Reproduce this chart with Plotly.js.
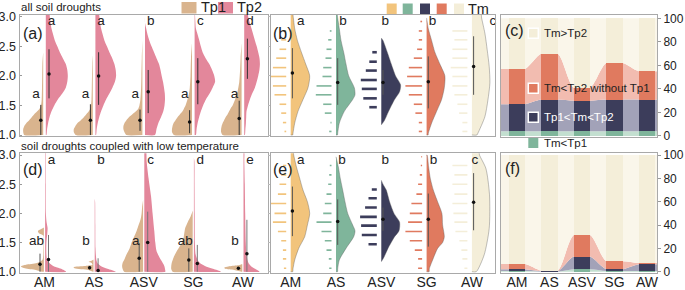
<!DOCTYPE html>
<html><head><meta charset="utf-8">
<script src="https://cdn.plot.ly/plotly-3.0.1.min.js"></script>
<style>html,body{margin:0;padding:0;background:#fff}</style>
</head><body><div id="chart" style="width:685px;height:290px"></div>
<script>
// ---------------- DATA ----------------
const categories = ['AM','AS','ASV','SG','AW'];

// Panel (a): all soil droughts, half-violin density profiles (relative density) per category
const aTp1Y = [
 [1.0,1.05,1.1,1.15,1.2,1.25,1.3,1.35,1.4,1.45,1.5,1.6,1.8,2.0,2.2,2.4],
 [1.0,1.05,1.1,1.15,1.2,1.25,1.3,1.35,1.4,1.45,1.5,1.6,1.8,2.0,2.2,2.35],
 [1.0,1.05,1.1,1.15,1.2,1.25,1.3,1.35,1.4,1.45,1.5,1.6,1.8,2.0,2.3,2.6],
 [1.0,1.05,1.1,1.15,1.2,1.25,1.3,1.35,1.4,1.45,1.5,1.6,1.7,1.8,2.0,2.3,2.55],
 [1.0,1.05,1.1,1.15,1.2,1.25,1.3,1.35,1.4,1.45,1.5,1.6,1.7,1.8,1.9,2.1,2.3,2.55]
];
const aTp1D = [
 [19,20,20,19,17,14,11.5,9,6,3.5,2.2,1.5,1.2,1,0.8,0],
 [17,19,19,17.5,15.5,12,9,6.5,4,2.5,1.8,1.3,1,0.8,0.5,0],
 [16,18,19,19,18,16,13.5,10,6.5,4,3,2,1.3,1,0.6,0],
 [18,20,20,19.5,18.5,16.5,14.5,12,9.5,8,6.5,4.5,3,2.2,1.5,1,0],
 [19,20.5,20.5,20,19,17.5,16,14,12.5,11,9,6.5,4.5,3.3,2.3,1.5,1,0]
];
const aTp2Y = [1.0,1.1,1.2,1.3,1.4,1.5,1.6,1.7,1.8,1.9,2.0,2.1,2.2,2.3,2.4,2.5,2.6,2.7,2.8,2.9,3.0,3.05];
const aTp2D = [
 [0.7,1.3,2.3,3.7,5.7,8.5,12,16.5,20,21.5,22,21.5,20,17,14,11.5,9,7.3,5.7,4.8,4,3.7],
 [0.7,1.3,2.3,3.8,5.7,8,10.7,14,17,19.5,20.7,20.3,19,16.8,14,11.5,9,7.3,5.7,4.7,4,3.5],
 [10,11.5,13.3,16,18.3,19.5,20,19.8,19,18,16.7,15.5,14,11.5,9,6.5,4.3,2.5,1.2,0,0,0],
 [1.3,2,3,4.5,6.3,8.5,11.3,15,18,20.5,19.7,17.5,14.7,11,8,6.2,4.7,3,1.3,0.8,0.5,0.3],
 [0.7,1.2,1.7,2,2.3,3.8,5.7,8,10.7,12.5,14,15.2,15.7,15.3,14,12.5,10.7,9,7.3,5.6,4,3.5]
];
const aTp1Mean = [1.25,1.25,1.25,1.22,1.28], aTp1Lo = [1.0,1.0,1.07,1.03,1.0], aTp1Hi = [1.51,1.52,1.43,1.42,1.58];
const aTp2Mean = [2.03,2.0,1.73,1.90,2.29], aTp2Lo = [1.62,1.51,1.37,1.52,1.95], aTp2Hi = [2.45,2.40,2.10,2.30,2.63];
const aTp1Letters = ['a','a','a','a','a'], aTp2Letters = ['a','a','b','c','d'];

// Panel (d): soil droughts coupled with low temperature
const dTp1Y = [
 [1.0,1.03,1.06,1.09,1.12,1.15,1.2,1.3,1.5,1.62,1.66,1.7,1.73,1.76],
 [1.0,1.03,1.06,1.08,1.1,1.12,1.15,1.17,1.19,1.21],
 [1.0,1.05,1.1,1.15,1.2,1.3,1.4,1.5,1.6,1.7,1.8,1.9,2.0,2.1,2.23],
 [1.0,1.05,1.15,1.25,1.35,1.45,1.55,1.65,1.75,1.85,1.95,2.05],
 [1.0,1.03,1.05,1.07,1.09,1.11,1.13]
];
const dTp1D = [
 [2,8,19,23,18,7,1.5,0.6,0.4,0.5,5,6,3,0],
 [0.5,5,19,20,8,1,2,5,2,0],
 [19,20.5,21,20.5,19,16.5,13.5,11.5,9,6.5,4.5,2.5,1.5,1,0],
 [20,21.5,21,19,16,12.5,9.5,8.5,7.5,5,2,0],
 [0.5,8,17,18,14,5,0]
];
const dTp2Y = [
 [1.0,1.05,1.1,1.15,1.2,1.3,1.5,1.65,1.75,1.85,2.0,2.5,3.0,3.05],
 [1.0,1.05,1.1,1.15,1.2,1.4,1.8,2.2,2.25],
 [1.0,1.02,1.1,1.2,1.35,1.5,1.7,2.0,2.3,2.6,2.9,3.05],
 [1.0,1.05,1.1,1.15,1.2,1.3,1.5,2.0,2.5,2.9,2.95],
 [1.0,1.05,1.1,1.15,1.2,1.3,1.5,2.0,2.5,2.9,3.05]
];
const dTp2D = [
 [21,16,8,4.3,2,1.3,1.3,2.2,2.5,1.5,0.8,0.6,0.5,0.5],
 [21,12.7,6,2.7,1.7,0.8,0.6,0.4,0],
 [21,21,20,16.7,12.3,11,10,8.3,6.7,4.3,2.3,1.8],
 [27,19,11,6,3.7,1.7,1,0.8,0.6,0.5,0],
 [16,11.5,7.3,5,4,3,2.3,1.7,1.3,0.8,0.7]
];
const dTp1Mean = [1.13,1.07,1.23,1.2,1.06], dTp1Lo = [1.0,1.04,1.0,1.0,1.04], dTp1Hi = [1.31,1.10,1.49,1.40,1.08];
const dTp2Mean = [1.21,1.02,1.5,1.14,1.31], dTp2Lo = [1.0,1.0,1.0,1.0,1.0], dTp2Hi = [1.63,1.23,2.03,1.46,1.89];
const dTp1Letters = ['ab','b','a','ab','b'], dTp2Letters = ['a','b','c','d','e'];

// Panel (b): Tm distributions (violin + rain histogram)
const bY = [
 [1.0,1.03,1.2,1.4,1.6,1.8,2.0,2.2,2.4,2.6,2.8,3.0,3.05],
 [1.0,1.03,1.2,1.4,1.6,1.68,1.8,2.0,2.2,2.4,2.6,2.8,3.0,3.05],
 [1.17,1.25,1.4,1.6,1.73,1.85,2.0,2.2,2.4,2.6,2.64],
 [1.0,1.03,1.2,1.4,1.6,1.8,2.0,2.2,2.4,2.6,2.8,2.98],
 [1.0,1.03,1.31,1.59,1.88,2.16,2.44,2.72,2.98,3.05]
];
const bD = [
 [2,2.3,4,7.3,12.3,17.3,19,15,10.7,6.7,4,2.5,2],
 [1.5,1.7,3.3,8.3,16.7,19,18.3,12.7,10,7.7,5,3.3,1.5,1],
 [0,3.3,7.3,13.3,18.3,19.3,14.3,10,6,1.7,0],
 [1.5,1.7,5,10,15,17.7,18.3,13.3,8.3,5,1.7,0],
 [5,6,13,16,18,17.3,15.3,13,9.7,9]
];
const bMean = [2.05,1.89,1.89,1.90,2.16], bLo = [1.62,1.51,1.68,1.45,1.68], bHi = [2.47,2.30,2.10,2.33,2.67];
const bLetters = ['a','b','b','b','c'];
const bBins = [1.06,1.21,1.37,1.52,1.68,1.83,1.99,2.14,2.30,2.45,2.61,2.76,2.92];
const bBinsASV = [1.47,1.62,1.78,1.93,2.09,2.24,2.40];
const bCounts = [
 [1.7,3.3,5,6.7,11.7,13.3,16.7,13.3,10,6.7,5,3.3,0],
 [2.3,1,6.7,8.3,15.7,15,9,8.3,6,5,3.3,1.7,0],
 [7.5,13.5,15,16,11,7.5,4.5],
 [3.3,3.3,6.7,8.3,13.3,16.7,15,13.3,8.3,5,3.3,3.3,1.7],
 [5,5,8.3,10,13,15,15,16.7,15,15,13,15,0]
];

// Panel (e)
const eY = [
 [1.0,1.05,1.2,1.4,1.6,1.8,2.0,2.2,2.4,2.6,2.8,3.0,3.05],
 [1.0,1.05,1.2,1.4,1.6,1.7,1.8,2.0,2.2,2.4,2.6,2.8,2.97],
 [1.17,1.25,1.4,1.6,1.7,1.85,2.0,2.2,2.4,2.5,2.57],
 [1.0,1.05,1.2,1.4,1.5,1.6,1.8,2.0,2.2,2.4,2.6,2.8,3.0],
 [1.0,1.29,1.74,2.32,2.77,3.0,3.05]
];
const eD = [
 [2,2.3,4,8,14,16.7,19,16.7,12.3,9,5.7,3,2.5],
 [1.5,1.7,3.3,10,17.7,19,16.7,11.7,9,6.7,4.3,2.3,0],
 [0,2.7,6.7,13.3,17.7,18.3,12.7,8.3,5,1.7,0],
 [2.5,2.7,6,11,16,17.7,16,15.3,11,6.7,3.7,2,0.5],
 [4.3,12.3,17.3,17.6,14,7.6,7]
];
const eMean = [2.04,1.86,1.9,1.9,2.19], eLo = [1.61,1.46,1.7,1.43,1.71], eHi = [2.46,2.24,2.1,2.34,2.69];
const eLetters = ['a','b','b','b','c'];
const eBins = [1.06,1.22,1.37,1.53,1.69,1.85,2.0,2.17,2.33,2.5,2.66,2.82,2.97];
const eBinsASV = [1.47,1.63,1.79,1.94,2.1,2.26,2.41];
const eCounts = [
 [2.3,3.3,3.3,5,8.3,13.3,11.7,19,8.3,6.7,5,3.3,0],
 [2.3,2.7,5,6.7,10,15,8.3,6.7,5,3.3,2.3,1.7,0],
 [8.3,15,15.7,16.7,11.7,8.3,5],
 [4,4,7.3,12.3,16.7,14,12.3,10.7,5.7,4,2.3,1.3,0.8],
 [3,5,6,8,12,13,14,15,13,15,13,15,0]
];

// Panels (c) and (f): percentage of each Tm class
const classNames = ['Tm<Tp1','Tp1<Tm<Tp2','Tm<Tp2 without Tp1','Tm>Tp2'];
const cGreen = [4,4,4,4,4], cNavy = [23,27,26,27,27], cSalmon = [30,39,11,31,24], cCream = [43,30,59,38,45];
const fGreen = [0.5,0,2,0.5,0.5], fNavy = [1.5,0.3,11,1.5,5.8], fSalmon = [4.5,0.5,18.5,7,1.2], fCream = [93.5,99.2,68.5,91,92.5];

// ---------------- STYLE ----------------
const TAN='#d9b48e', PINK='#e3879b';
const TM_COLORS=['#f2c47c','#7fb59b','#3c3d5b','#e07a5f','#f4eed9'];
const CLS_OPAQUE=['#7fb59b','#3c3d5b','#e07a5f','#f4eed9'];
const CLS_LIGHT=['#c3dfd0','#a2a2b8','#f2bcb0','#faf6ea'];
const FONT='Liberation Sans, Arial, sans-serif';
const PXU_A=49.6, PXU_B=45.3;
const W=685,H=290;
// letter x-offsets (px) for panels b and e
const OFF_B=[10,7,4,6,21], OFF_E=[10,6,4,7,3];

const traces=[];
function halfViolin(xa,ya,center,side,gapPx,ys,ds,pxu,color,lineColor,lw){
  const g=gapPx/pxu, xs=[center+side*g], yy=[ys[0]];
  for(let i=0;i<ys.length;i++){xs.push(center+side*(g+ds[i]/pxu)); yy.push(ys[i]);}
  xs.push(center+side*g); yy.push(ys[ys.length-1]);
  traces.push({type:'scatter',mode:'lines',x:xs,y:yy,xaxis:xa,yaxis:ya,fill:'toself',fillcolor:color,
    line:{width:lw||0,color:lineColor||color,shape:'spline',smoothing:0.7},hoverinfo:'skip',showlegend:false});
}
function errBars(xa,ya,offPx,pxu,mean,lo,hi,color,dotColor){
  const xs=[],ys=[],mx=[];
  for(let i=0;i<mean.length;i++){const x=i+offPx/pxu; xs.push(x,x,null); ys.push(lo[i],hi[i],null); mx.push(x);}
  traces.push({type:'scatter',mode:'lines',x:xs,y:ys,xaxis:xa,yaxis:ya,line:{color:color,width:1},hoverinfo:'skip',showlegend:false});
  traces.push({type:'scatter',mode:'markers',x:mx,y:mean,xaxis:xa,yaxis:ya,marker:{color:dotColor||'#111',size:3.5},hoverinfo:'skip',showlegend:false});
}
function letters(xa,ya,offPx,pxu,yv,labels){
  traces.push({type:'scatter',mode:'text',x:labels.map((_,i)=>i+(Array.isArray(offPx)?offPx[i]:offPx)/pxu),y:labels.map(()=>yv),text:labels,
    xaxis:xa,yaxis:ya,cliponaxis:false,textfont:{family:FONT,size:13.5,color:'#222'},textposition:'middle center',hoverinfo:'skip',showlegend:false});
}
function rain(xa,ya,center,gapPx,pxu,bins,counts,color,lw){
  const xs=[],ys=[];
  for(let k=0;k<bins.length;k++){ if(counts[k]<=0) continue;
    xs.push(center-(gapPx+counts[k])/pxu, center-gapPx/pxu, null); ys.push(bins[k],bins[k],null);}
  traces.push({type:'scatter',mode:'lines',x:xs,y:ys,xaxis:xa,yaxis:ya,line:{color:color,width:lw},hoverinfo:'skip',showlegend:false});
}

// (a) and (d)
for(let i=0;i<5;i++){
  halfViolin('x','y',i,-1,1.3,aTp1Y[i],aTp1D[i],PXU_A,TAN);
  halfViolin('x','y',i,1,1.3,aTp2Y,aTp2D[i],PXU_A,PINK);
  halfViolin('x4','y4',i,-1,0.6,dTp1Y[i],dTp1D[i],PXU_A,TAN);
  halfViolin('x4','y4',i,1,0.6,dTp2Y[i],dTp2D[i],PXU_A,PINK);
}
errBars('x','y',-3.7,PXU_A,aTp1Mean,aTp1Lo,aTp1Hi,'#333');
errBars('x','y',4.5,PXU_A,aTp2Mean,aTp2Lo,aTp2Hi,'#333');
errBars('x4','y4',-4.5,PXU_A,dTp1Mean,dTp1Lo,dTp1Hi,'#555');
errBars('x4','y4',4,PXU_A,dTp2Mean,dTp2Lo,dTp2Hi,'#777');
letters('x','y',-8.5,PXU_A,1.69,aTp1Letters);
letters('x','y',7,PXU_A,2.91,aTp2Letters);
letters('x4','y4',-8,PXU_A,1.51,dTp1Letters);
letters('x4','y4',7,PXU_A,2.91,dTp2Letters);

// (b) and (e)
for(let i=0;i<5;i++){
  halfViolin('x2','y2',i,1,0,bY[i],bD[i],PXU_B,TM_COLORS[i],'rgba(90,90,90,0.55)',0.7);
  halfViolin('x5','y5',i,1,0,eY[i],eD[i],PXU_B,TM_COLORS[i],'rgba(90,90,90,0.55)',0.7);
  const isASV = categories[i]==='ASV';
  rain('x2','y2',i,4.5,PXU_B,isASV?bBinsASV:bBins,bCounts[i],TM_COLORS[i],isASV?2.6:1.6);
  rain('x5','y5',i,4.5,PXU_B,isASV?eBinsASV:eBins,eCounts[i],TM_COLORS[i],isASV?2.6:1.6);
}
errBars('x2','y2',1.7,PXU_B,bMean,bLo,bHi,'#555');
errBars('x5','y5',1.7,PXU_B,eMean,eLo,eHi,'#555');
letters('x2','y2',OFF_B,PXU_B,2.91,bLetters);
letters('x5','y5',OFF_E,PXU_B,2.91,eLetters);

// (c) and (f): smooth light areas + opaque bars on overlay axes
function stackPanel(xa,ya,yaOver,layers){
  const ex=[-0.5], idx=[0];
  for(let i=0;i<5;i++){ex.push(i-0.25,i,i+0.25); idx.push(i,i,i);}
  ex.push(4.5); idx.push(4);
  layers.forEach((vals,L)=>{
    traces.push({type:'scatter',mode:'lines',x:ex,y:idx.map(k=>vals[k]),xaxis:xa,yaxis:ya,stackgroup:'s'+xa,
      fillcolor:CLS_LIGHT[L],line:{width:0,shape:'spline',smoothing:1},hoverinfo:'skip',showlegend:false});
  });
  layers.forEach((vals,L)=>{
    traces.push({type:'bar',x:[0,1,2,3,4],y:vals,width:0.5,xaxis:xa,yaxis:yaOver,marker:{color:CLS_OPAQUE[L],line:{width:0}},
      hoverinfo:'skip',showlegend:false,name:classNames[L]});
  });
}
stackPanel('x3','y3','y7',[cGreen,cNavy,cSalmon,cCream]);
stackPanel('x6','y6','y8',[fGreen,fNavy,fSalmon,fCream]);

// ---------------- LAYOUT ----------------
const dx=(a,b)=>[a/W,b/W], dy=(top,bot)=>[1-bot/H,1-top/H];
const BORDER='#a9a9a9';
const base={showgrid:false,zeroline:false,showline:true,mirror:true,linecolor:BORDER,linewidth:1,fixedrange:true};
const yTicks={tickvals:[1,1.5,2,2.5,3],ticktext:['1.0','1.5','2.0','2.5','3.0']};
const leftY={ticks:'inside',ticklen:2,tickcolor:'#999',tickfont:{size:12.5,color:'#222'}};
const xLab={tickvals:[0,1,2,3,4],ticktext:categories,ticks:'',ticklabelstandoff:-4,tickfont:{size:14,color:'#222'}};
const layout={
  width:W,height:H,margin:{l:0,r:0,t:0,b:0},paper_bgcolor:'#fff',plot_bgcolor:'rgba(0,0,0,0)',
  showlegend:false,hovermode:false,barmode:'stack',font:{family:FONT,color:'#222'},
  xaxis:Object.assign({},base,{domain:dx(19.5,268),range:[-0.504,4.506],anchor:'y',showticklabels:false,ticks:''}),
  yaxis:Object.assign({},base,yTicks,leftY,{domain:dy(15,136),range:[0.983,3.03],anchor:'x'}),
  xaxis2:Object.assign({},base,{domain:dx(271,495),range:[-0.435,4.51],anchor:'y2',showticklabels:false,ticks:''}),
  yaxis2:Object.assign({},base,yTicks,{domain:dy(15,136),range:[0.983,3.03],anchor:'x2',showticklabels:false,ticks:'outside',ticklen:2,tickcolor:'#bbb'}),
  xaxis3:Object.assign({},base,{domain:dx(501,657),range:[-0.49,4.31],anchor:'y3',showticklabels:false,ticks:''}),
  yaxis3:Object.assign({},base,{domain:dy(15,136.7),range:[-0.6,102.8],anchor:'x3',side:'right',tickvals:[0,20,40,60,80,100],ticks:'outside',ticklen:3,tickcolor:'#999',tickfont:{size:12,color:'#222'}}),
  xaxis4:Object.assign({},base,xLab,{domain:dx(19.5,268),range:[-0.504,4.506],anchor:'y4'}),
  yaxis4:Object.assign({},base,yTicks,leftY,{domain:dy(153.3,272.7),range:[0.983,3.03],anchor:'x4'}),
  xaxis5:Object.assign({},base,xLab,{domain:dx(271,495),range:[-0.435,4.51],anchor:'y5'}),
  yaxis5:Object.assign({},base,yTicks,{domain:dy(153.3,272.7),range:[0.983,3.03],anchor:'x5',showticklabels:false,ticks:'outside',ticklen:2,tickcolor:'#bbb'}),
  xaxis6:Object.assign({},base,xLab,{domain:dx(501,657),range:[-0.49,4.31],anchor:'y6'}),
  yaxis6:Object.assign({},base,{domain:dy(153.3,272.7),range:[-0.86,101.5],anchor:'x6',side:'right',tickvals:[0,20,40,60,80,100],ticks:'outside',ticklen:3,tickcolor:'#999',tickfont:{size:12,color:'#222'}}),
  yaxis7:{overlaying:'y3',range:[-0.6,102.8],visible:false,fixedrange:true},
  yaxis8:{overlaying:'y6',range:[-0.86,101.5],visible:false,fixedrange:true},
  annotations:[],shapes:[]
};
function txt(t,xp,yp,size,opts){layout.annotations.push(Object.assign({text:t,x:xp/W,y:1-yp/H,xref:'paper',yref:'paper',showarrow:false,
  xanchor:'left',yanchor:'middle',font:{family:FONT,size:size,color:'#222'}},opts||{}));}
function box(x0,y0,x1,y1,color,lineColor){layout.shapes.push({type:'rect',xref:'paper',yref:'paper',x0:x0/W,x1:x1/W,y0:1-y1/H,y1:1-y0/H,
  fillcolor:color,line:{color:lineColor||color,width:lineColor?1.5:0},layer:'above'});}

txt('all soil droughts',19,7.5,11.5);
txt('soil droughts coupled with low temperature',19,146,11.5);
txt('(a)',21,33,16); txt('(b)',271,33,16); txt('(c)',503,31,16);
txt('(d)',21,169,16); txt('(e)',271,170,16); txt('(f)',503,168,16);
// legend 1
box(181.5,2,196.5,13.5,TAN); txt('Tp1',199,7.5,14.5);
box(218,2,233,13.5,PINK); txt('Tp2',235,7.5,14.5);
// legend 2
[386.7,402.7,420,436.7,454].forEach((x,i)=>box(x,3.5,x+10,14,TM_COLORS[i]));
txt('Tm',466,8.5,14.5);
// legend (c)
box(528.3,28.3,538.3,38.3,CLS_OPAQUE[3],'#ffffff'); txt('Tm&gt;Tp2',542,33.3,11.5);
box(528.3,83.3,538.3,93.3,CLS_OPAQUE[2],'#ffffff'); txt('Tm&lt;Tp2 without Tp1',542,88.3,11.5);
box(528.3,112.3,538.3,122.3,CLS_OPAQUE[1],'#ffffff'); txt('Tp1&lt;Tm&lt;Tp2',542,117.3,11.5,{font:{family:FONT,size:11.5,color:'#ffffff'}});
box(528.3,138,538.3,148,CLS_OPAQUE[0]); txt('Tm&lt;Tp1',542,143,11.5);

Plotly.newPlot('chart',traces,layout,{displayModeBar:false,staticPlot:true});
</script></body></html>
